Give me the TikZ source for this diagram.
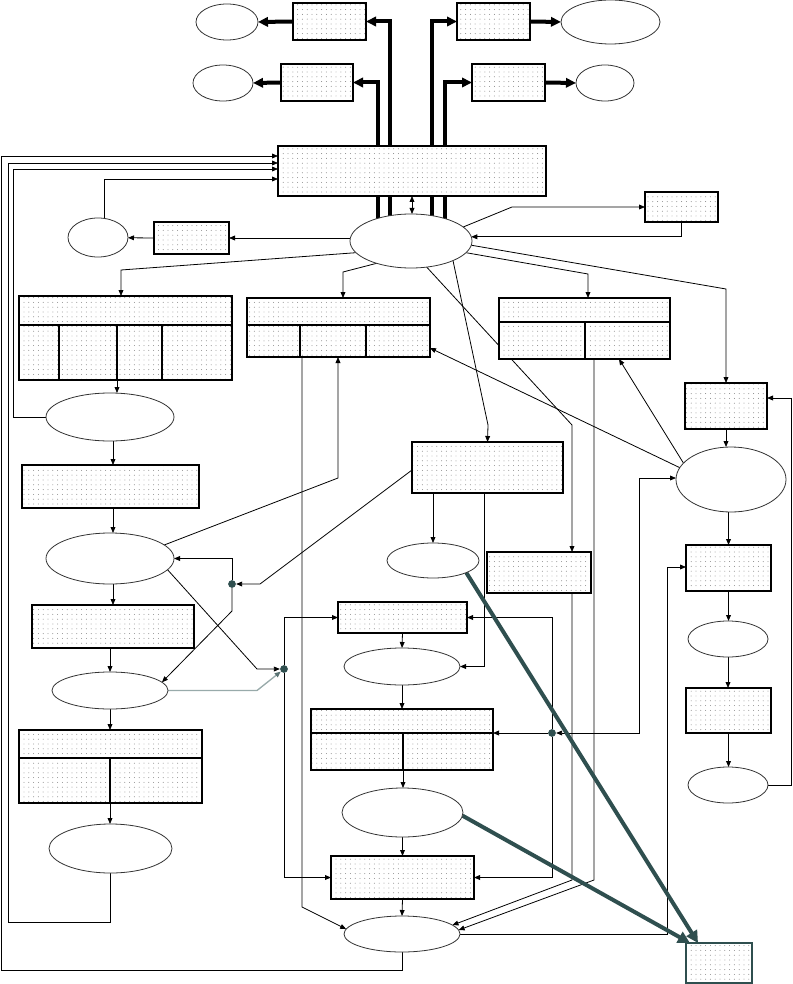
\documentclass[tikz,border=0pt]{standalone}
\usetikzlibrary{shapes.geometric,arrows.meta,patterns.meta}
\pgfdeclarelayer{bg}
\pgfsetlayers{bg,main}
\definecolor{dsg}{HTML}{2F4F4F}
\definecolor{tg}{HTML}{98AAAA}
\begin{document}
\begin{tikzpicture}[x=0.75pt,y=-0.75pt,
  box/.style 2 args={draw=black,line width=0.9pt,inner sep=0pt,outer sep=0pt,
    minimum width=#1*0.75pt,minimum height=#2*0.75pt,preaction={fill=white},
    pattern={Dots[distance=3.6pt,radius=0.36pt]},pattern color=black!50},
  ell/.style 2 args={ellipse,draw=black!80,line width=0.6pt,fill=white,inner sep=0pt,outer sep=0pt,
    minimum width=#1*0.75pt,minimum height=#2*0.75pt},
  dot/.style={circle,fill=dsg,inner sep=0pt,minimum size=5.8pt},
  arr/.style={draw=black,line width=0.6pt,-{Triangle[length=4.5pt,width=3.6pt]}},
  dbl/.style={draw=black,line width=0.6pt,{Triangle[length=4.5pt,width=3.6pt]}-{Triangle[length=4.5pt,width=3.6pt]}},
  thk/.style={draw=black,line width=3pt,-{Triangle[length=7.5pt,width=7pt]}},
  tl/.style={draw=dsg,line width=3pt,-{Triangle[length=9pt,width=9pt]}},
  tgarr/.style={draw=tg,line width=1pt,-{Triangle[length=4.5pt,width=3.6pt,color=dsg!80]}},
  div/.style={draw=black,line width=0.9pt}]
\useasboundingbox (0,0) rectangle (792,984);

% ---------- nodes ----------
\node[ell={62}{36}] (etl1) at (227,22) {};
\node[box={73}{37}] (tl1) at (329.5,21.5) {};
\node[ell={60}{36}] (etl2) at (223,83) {};
\node[box={72}{37}] (tl2) at (317,82.5) {};
\node[box={73}{37}] (tr1) at (493.5,21.5) {};
\node[ell={99}{44}] (etr1) at (610.5,22) {};
\node[box={73}{37}] (tr2) at (508.5,82.5) {};
\node[ell={58}{36}] (etr2) at (605,83) {};
\node[box={268}{50}] (main) at (412,171) {};
\node[ell={122}{54}] (hub) at (411,241) {};
\node[box={73}{30}] (r1) at (681.5,207) {};
\node[box={75}{32}] (bs) at (191.5,238) {};
\node[ell={60}{39}] (el) at (98,237.5) {};
\node[box={213}{84}] (m1) at (125.5,338) {};
\node[box={183}{59}] (m2) at (338.5,327.5) {};
\node[box={171}{61}] (m3) at (584.5,328.5) {};
\node[ell={128}{48}] (el1) at (110,417) {};
\node[box={177}{43}] (l2) at (110.5,486.5) {};
\node[ell={128}{51}] (el2) at (110,558.5) {};
\node[box={162}{43}] (l3) at (113,626.5) {};
\node[ell={116}{37}] (el3) at (110,690.5) {};
\node[box={183}{73}] (l4) at (110.5,766.5) {};
\node[ell={123}{49}] (el5) at (110.5,848.5) {};
\node[box={151}{51}] (c) at (487.5,467.5) {};
\node[ell={92}{35}] (ec1) at (433,560.5) {};
\node[box={104}{41}] (sm) at (539,572.5) {};
\node[box={129}{31}] (c2) at (402.5,617.5) {};
\node[ell={116}{37}] (ec2) at (402,666.5) {};
\node[box={182}{61}] (t) at (402,739.5) {};
\node[ell={121}{49}] (ec3) at (402.5,812.5) {};
\node[box={143}{43}] (c4) at (402.5,877.5) {};
\node[ell={116}{36}] (ebot) at (402,934) {};
\node[box={66}{40},draw=dsg] (br) at (719,963) {};
\node[box={82}{46}] (r2) at (726,406) {};
\node[ell={110}{65}] (er1) at (731,479.5) {};
\node[box={85}{46}] (r3) at (728.5,568) {};
\node[ell={80}{36}] (er2) at (728,639) {};
\node[box={85}{45}] (r4) at (728.5,710.5) {};
\node[ell={80}{36}] (er3) at (728,785) {};
\node[dot] (d1) at (232,584) {};
\node[dot] (d2) at (284,669) {};
\node[dot] (d3) at (552,733) {};

% ---------- record dividers ----------
\draw[div] (m1.west |- 0,325) -- (m1.east |- 0,325);
\foreach \x in {59,117,162} \draw[div] (\x,325) -- (m1.south -| \x,0);
\draw[div] (m2.west |- 0,325) -- (m2.east |- 0,325);
\foreach \x in {300,366} \draw[div] (\x,325) -- (m2.south -| \x,0);
\draw[div] (m3.west |- 0,322) -- (m3.east |- 0,322);
\draw[div] (585,322) -- (m3.south -| 585,0);
\draw[div] (l4.west |- 0,758) -- (l4.east |- 0,758);
\draw[div] (110,758) -- (l4.south -| 110,0);
\draw[div] (t.west |- 0,733) -- (t.east |- 0,733);
\draw[div] (403,733) -- (t.south -| 403,0);

% ---------- connectors ----------
\begin{pgfonlayer}{bg}
% thick top
\draw[thk] (378,241) |- (tl2.east);
\draw[thk] (390,241) |- (tl1.east);
\draw[thk] (432,241) |- (tr1.west);
\draw[thk] (445,241) |- (tr2.west);
\draw[thk] (tl1.west) -- (etl1.east);
\draw[thk] (tl2.west) -- (etl2.east);
\draw[thk] (tr1.east) -- (etr1.west);
\draw[thk] (tr2.east) -- (etr2.west);
% into main box from left
\draw[arr] (ebot.south) -- (ebot.south |- 0,970) -- (1,970) -- (1,156) -- (main.west |- 0,156);
\draw[arr] (el5.south) -- (el5.south |- 0,922) -- (8,922) -- (8,163) -- (main.west |- 0,163);
\draw[arr] (el1.west) -| (13,169) -- (main.west |- 0,169);
\draw[arr] (el.north -| 104,0) -- (104,179) -- (main.west |- 0,179);
% hub
\draw[dbl] (main.south -| 412,0) -- (hub.north -| 412,0);
\draw[arr] (hub.west |- bs) -- (bs.east);
\draw[arr] (bs.west) -- (el);
\draw[arr] (hub.15) -- (512,207) -- (r1.west);
\draw[arr] (r1.south) |- (hub.4);
\draw[arr] (hub.-4) -- (726,289) -- (r2.north);
\draw[arr] (hub.-12) -- (588,274) -- (588,274 |- m3.north);
\draw[arr] (hub.-168) -- (121,270) -- (121,270 |- m1.north);
\draw[arr] (hub.-147) -- (343,272) -- (343,272 |- m2.north);
\draw[arr] (hub.-25) -- (488,425) -- (c.north);
\draw[arr] (hub.-59) -- (572,425) -- (572,425 |- sm.north);
% right column
\draw[arr] (r2.south) -- (r2.south |- er1.north);
\draw[arr] (r3.north |- er1.south) -- (r3.north);
\draw[arr] (r3.south) -- (r3.south |- er2.north);
\draw[arr] (er2.south) -- (er2.south |- r4.north);
\draw[arr] (r4.south) -- (r4.south |- er3.north);
\draw[arr] (er3.east) -| (791,398) -- (r2.east |- 0,398);
\draw[arr] (ebot.east) -| (667,567) -- (r3.west |- 0,567);
\draw[dbl] (d3) -- (639,733) -- (639,478) -- (er1.west |- 0,478);
\draw[arr] (er1.167) -- (m2.east |- 0,348);
\draw[arr] (er1.161) -- (m3.south -| 619,0);
% centre
\draw[arr] (d3) -- (t.east |- d3);
\draw[arr] (d3) |- (c2.east);
\draw[arr] (d3) |- (c4.east);
\draw[arr] (c.south -| ec1.north) -- (ec1.north);
\draw[arr] (c.south -| 484,0) |- (ec2.east);
\draw[arr] (c.west |- 0,470) -- (260,584) -- (d1);
\draw[arr] (el2.14) -- (338,478) -- (338,478 |- m2.south);
\draw[arr] (d1) |- (el2.east);
\draw[arr] (d1) -- (232,611) -- (el3.9);
\draw[arr] (el2.-11) -- (257,669) -- (d2);
\draw[tgarr] (el3.east) -- (257,690.5) -- (d2);
\draw[arr] (d2) |- (c2.west);
\draw[arr] (d2) |- (c4.west);
\draw[arr] (c2.south) -- (ec2.north);
\draw[arr] (ec2.south) -- (t.north);
\draw[arr] (t.south -| 403,0) -- (ec3.north -| 403,0);
\draw[arr] (ec3.south) -- (c4.north);
\draw[arr] (c4.south) -- (ebot.north);
\draw[arr] (m2.south -| 302,0) -- (302,907) -- (ebot.175);
\draw[arr] (sm.south -| 572,0) -- (572,880) -- (ebot.10);
\draw[arr] (m3.south -| 594,0) -- (594,880) -- (ebot.4);
\draw[tl] (ec1.-20) -- (br.north -| 698,0);
\draw[tl] (ec3.-3) -- (br.north -| 690,0);
% left column
\draw[arr] (m1.south -| 117,0) -- (el1.north -| 117,0);
\draw[arr] (el1.south -| 113,0) -- (l2.north -| 113,0);
\draw[arr] (l2.south -| 113,0) -- (el2.north -| 113,0);
\draw[arr] (el2.south -| 113,0) -- (l3.north -| 113,0);
\draw[arr] (l3.south -| 110,0) -- (el3.north);
\draw[arr] (el3.south) -- (l4.north -| el3.south);
\draw[arr] (l4.south -| 110,0) -- (el5.north -| 110,0);
\end{pgfonlayer}
\end{tikzpicture}
\end{document}
